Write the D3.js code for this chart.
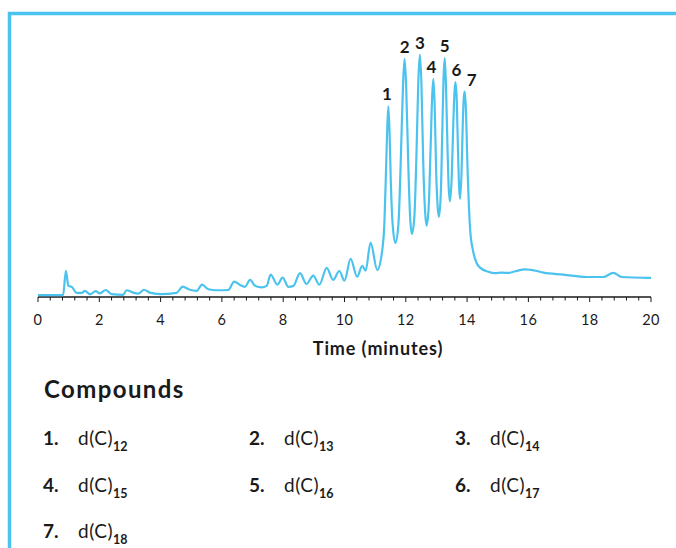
<!DOCTYPE html>
<html>
<head>
<meta charset="utf-8">
<script src="https://cdn.jsdelivr.net/npm/d3@7"></script>
<style>
  body { margin: 0; background: #fff; }
  svg { display: block; font-family: Lato, "Open Sans", sans-serif; }
</style>
</head>
<body>
<script>
// chromatogram trace (time in minutes, signal in relative units)
var times = [0, 0.82, 0.91, 0.99, 1.10, 1.26, 1.43, 1.53, 1.70, 1.88, 2.02, 2.21, 2.40, 2.78, 2.89, 3.11, 3.27, 3.46, 3.65, 3.98,
  4.52, 4.72, 4.91, 5.18, 5.35, 5.56, 5.83, 6.21, 6.40, 6.59, 6.75, 6.92, 7.08, 7.30, 7.46, 7.59, 7.81, 7.98, 8.17, 8.33,
  8.55, 8.76, 8.98, 9.18, 9.42, 9.63, 9.83, 10.0, 10.20, 10.41, 10.58, 10.69, 10.85, 11.07, 11.21,
  11.30, 11.35, 11.39, 11.43, 11.47, 11.51, 11.57, 11.66,
  11.76, 11.84, 11.91, 11.96, 12.01, 12.08, 12.14, 12.20,
  12.28, 12.35, 12.41, 12.46, 12.51, 12.57, 12.63, 12.68,
  12.75, 12.81, 12.86, 12.90, 12.94, 12.99, 13.04, 13.08,
  13.14, 13.19, 13.23, 13.27, 13.31, 13.36, 13.40, 13.44,
  13.50, 13.55, 13.59, 13.62, 13.66, 13.70, 13.74, 13.77,
  13.82, 13.86, 13.89, 13.92, 13.96, 14.01, 14.10, 14.19, 14.31,
  14.42, 14.69, 14.91, 15.13, 15.35, 15.57, 15.90, 16.27, 16.49, 17.14, 17.90, 18.44, 18.77, 19.04, 20.0];
var signal = [0.4, 0.4, 10.5, 4.2, 3.8, 1.3, 1.3, 2.1, 0.7, 2.0, 1.1, 2.5, 0.8, 0.5, 2.4, 1.4, 1.0, 2.6, 1.4, 0.8,
  1.3, 3.9, 2.8, 2.1, 4.7, 2.8, 2.4, 2.5, 6.0, 4.6, 3.8, 6.7, 4.3, 3.6, 4.2, 8.9, 4.7, 7.6, 3.8, 4.2,
  9.5, 5.0, 8.5, 4.7, 11.7, 6.7, 10.4, 6.4, 15.4, 8.0, 12.5, 10.5, 22.2, 10.8, 17.1,
  30, 50, 68, 78.9, 68, 48, 30, 22.1,
  30, 58, 88, 98.6, 88, 55, 33, 25.8,
  33, 60, 90, 100.4, 88, 55, 35, 29.2,
  38, 62, 83, 90.3, 80, 52, 37, 32.9,
  42, 68, 90, 98.9, 88, 62, 45, 39.3,
  50, 72, 85, 88.9, 82, 62, 45, 40.4,
  52, 72, 82, 85, 78, 55, 27.5, 19, 13.7,
  11.8, 10.1, 9.5, 9.7, 9.6, 10.3, 11.1, 10.4, 9.7, 8.9, 7.9, 7.9, 9.6, 7.9, 7.5];

// labelled peaks
var peakIds = ["1", "2", "3", "4", "5", "6", "7"];
var peakTimes = [11.43, 11.96, 12.46, 12.90, 13.27, 13.62, 13.92];
var peakHeights = [78.9, 98.6, 100.4, 90.3, 98.9, 88.9, 85];

// legend
var compoundNums = ["1.", "2.", "3.", "4.", "5.", "6.", "7."];
var compoundSubs = ["12", "13", "14", "15", "16", "17", "18"];

var xTicks = [0, 2, 4, 6, 8, 10, 12, 14, 16, 18, 20];

var blue = "#4cc3ee";
var ink = "#1a1a1a";

var svg = d3.select("body").append("svg")
    .attr("width", 676)
    .attr("height", 548);

// frame on the left and top
svg.append("path")
    .attr("d", "M9.5,548 V13.5 H676")
    .attr("fill", "none")
    .attr("stroke", blue)
    .attr("stroke-width", 3.5);

var x = d3.scaleLinear().domain([0, 20]).range([38, 651]);
var y = d3.scaleLinear().domain([0, 100]).range([296, 55.5]);

// axis
var axis = svg.append("g").attr("transform", "translate(0,297)");
axis.append("line")
    .attr("x1", x(0)).attr("x2", x(20))
    .attr("stroke", ink).attr("stroke-width", 1.5);
var minor = d3.range(0, 20.01, 0.4);
axis.selectAll(".tick")
    .data(minor)
    .enter().append("line")
    .attr("x1", d => x(d)).attr("x2", d => x(d))
    .attr("y1", 0)
    .attr("y2", d => Math.abs(d / 2 - Math.round(d / 2)) < 1e-6 ? 5 : 3.5)
    .attr("stroke", ink).attr("stroke-width", 1);
axis.selectAll(".lbl")
    .data(xTicks)
    .enter().append("text")
    .attr("x", d => x(d))
    .attr("y", 28)
    .attr("text-anchor", "middle")
    .attr("font-size", 14.5)
    .attr("letter-spacing", 0.4)
    .attr("fill", ink)
    .text(d => d);

svg.append("text")
    .attr("x", 378)
    .attr("y", 355)
    .attr("text-anchor", "middle")
    .attr("font-size", 18)
    .attr("font-weight", 700)
    .attr("letter-spacing", 0.9)
    .attr("fill", ink)
    .text("Time (minutes)");

// trace
var pts = times.map((t, i) => [t, signal[i]]);
var line = d3.line()
    .x(d => x(d[0]))
    .y(d => y(d[1]))
    .curve(d3.curveMonotoneX);
svg.append("path")
    .datum(pts)
    .attr("d", line)
    .attr("fill", "none")
    .attr("stroke", blue)
    .attr("stroke-width", 2.2)
    .attr("stroke-linejoin", "round");

// peak numbers
var nudge = [-1.5, 0, 0, -2, 0, 1, 7];
svg.selectAll(".pk")
    .data(peakIds)
    .enter().append("text")
    .attr("x", (d, i) => x(peakTimes[i]) + nudge[i])
    .attr("y", (d, i) => y(peakHeights[i]) - 6)
    .attr("text-anchor", "middle")
    .attr("font-size", 17)
    .attr("font-weight", 700)
    .attr("fill", ink)
    .text(d => d);

// legend
svg.append("text")
    .attr("x", 44)
    .attr("y", 398)
    .attr("font-size", 24)
    .attr("font-weight", 700)
    .attr("letter-spacing", 1.4)
    .attr("fill", ink)
    .text("Compounds");

var item = svg.selectAll(".cmp")
    .data(compoundNums)
    .enter().append("g")
    .attr("transform", (d, i) => "translate(" + (43 + (i % 3) * 206) + "," + (445 + Math.floor(i / 3) * 46.5) + ")");
item.append("text")
    .attr("font-size", 19)
    .attr("font-weight", 700)
    .attr("fill", ink)
    .text(d => d);
var cname = item.append("text")
    .attr("x", 35)
    .attr("font-size", 19)
    .attr("letter-spacing", 0.5)
    .attr("fill", ink);
cname.append("tspan").text("d(C)");
cname.append("tspan")
    .attr("dy", 6)
    .attr("font-size", 12.5)
    .attr("font-weight", 700)
    .attr("letter-spacing", 0)
    .text((d, i) => compoundSubs[i]);
</script>
</body>
</html>
